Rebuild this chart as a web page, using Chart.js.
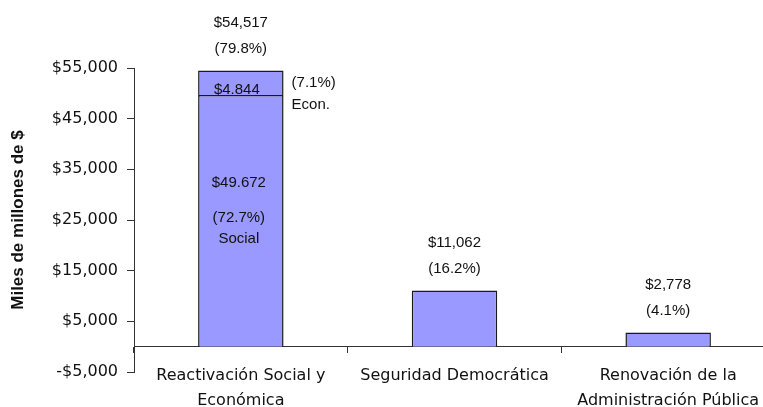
<!DOCTYPE html>
<html>
<head>
<meta charset="utf-8">
<script src="https://cdn.jsdelivr.net/npm/chart.js@4.4.0/dist/chart.umd.min.js"></script>
<style>
  html, body { margin: 0; padding: 0; background: #fff; overflow: hidden; }
  #wrap { width: 780px; height: 407px; position: relative; }
</style>
</head>
<body>
<div id="wrap"><canvas id="myChart"></canvas></div>
<script>
const categories = [
    ['Reactivación Social y', 'Económica'],
    'Seguridad Democrática',
    ['Renovación de la', 'Administración Pública']
];
// lower segment (Social for the first bar) and upper segment (Econ.)
const baseValues = [49672, 11062, 2778];
const econValues = [4844, null, null];
const totals = [54517, 11062, 2778];
const totalShares = ['(79.8%)', '(16.2%)', '(4.1%)'];
const socialText = ['$49.672', '(72.7%)', 'Social'];
const econText = ['$4.844', '(7.1%)', 'Econ.'];
const tickValues = [-5000, 5000, 15000, 25000, 35000, 45000, 55000];

const FONT = "'Liberation Sans', Arial, sans-serif";
const WIDE = "'DejaVu Sans', Verdana, sans-serif";
const ink = '#111';

function money(v) {
    const s = '$' + Math.abs(v).toLocaleString('en-US');
    return v < 0 ? '-' + s : s;
}

// value/percent text over each bar plus the split labels of the first bar
const barLabels = {
    id: 'barLabels',
    afterDatasetsDraw(chart) {
        const ctx = chart.ctx;
        const y = chart.scales.y;
        const bars = chart.getDatasetMeta(0).data;
        ctx.save();
        ctx.fillStyle = ink;
        ctx.font = '15px ' + FONT;
        ctx.textAlign = 'center';
        ctx.textBaseline = 'middle';
        bars.forEach((bar, i) => {
            const top = y.getPixelForValue(totals[i]);
            ctx.fillText(money(totals[i]), bar.x, top - 48);
            ctx.fillText(totalShares[i], bar.x, top - 22);
        });

        const b = bars[0];
        const half = b.width / 2;
        const socMid = (y.getPixelForValue(0) + y.getPixelForValue(baseValues[0])) / 2;
        ctx.fillText(socialText[0], b.x - 2, socMid - 38);
        ctx.fillText(socialText[1], b.x - 2, socMid - 3);
        ctx.fillText(socialText[2], b.x - 2, socMid + 18);

        const econMid = (y.getPixelForValue(baseValues[0]) + y.getPixelForValue(baseValues[0] + econValues[0])) / 2;
        ctx.fillText(econText[0], b.x - 4, econMid + 7);
        ctx.textAlign = 'left';
        ctx.fillText(econText[1], b.x + half + 8, econMid);
        ctx.fillText(econText[2], b.x + half + 8, econMid + 22);
        ctx.restore();
    }
};

const barStyle = {
    backgroundColor: '#9999ff',
    borderColor: '#1a1a1a',
    borderWidth: 1.5,
    categoryPercentage: 1,
    barPercentage: 0.4
};

new Chart(document.getElementById('myChart'), {
    type: 'bar',
    data: {
        labels: categories,
        datasets: [
            { label: 'Social', data: baseValues, ...barStyle },
            { label: 'Econ.', data: econValues, ...barStyle }
        ]
    },
    options: {
        responsive: true,
        maintainAspectRatio: false,
        animation: false,
        layout: { padding: { top: 68, bottom: 35, left: 0, right: 5 } },
        plugins: {
            legend: { display: false },
            tooltip: { enabled: false }
        },
        scales: {
            x: {
                stacked: true,
                position: { y: 0 },
                grid: { drawOnChartArea: false, tickLength: 6, color: '#333', offset: true },
                border: { display: true, color: '#333', width: 1 },
                ticks: {
                    color: ink,
                    padding: 11,
                    font: { family: WIDE, size: 16, lineHeight: 1.55 },
                    maxRotation: 0
                }
            },
            y: {
                stacked: true,
                min: -5000,
                max: 55000,
                afterBuildTicks: s => { s.ticks = tickValues.map(v => ({ value: v })); },
                afterFit: s => { s.width = 134; },
                grid: { drawOnChartArea: false, tickLength: 7, color: '#333' },
                border: { display: true, color: '#333', width: 1 },
                ticks: {
                    color: ink,
                    padding: 9,
                    font: { family: WIDE, size: 16 },
                    callback: v => money(v)
                },
                title: {
                    display: true,
                    text: 'Miles de millones de $',
                    color: ink,
                    font: { family: FONT, size: 17, weight: 'bold' },
                    padding: { top: 8, bottom: 0 }
                }
            }
        }
    },
    plugins: [barLabels]
});
</script>
</body>
</html>
